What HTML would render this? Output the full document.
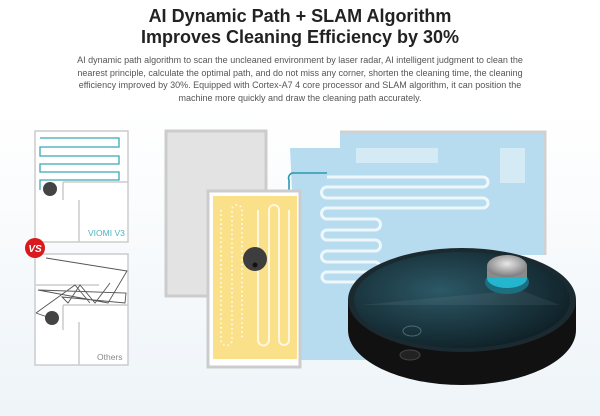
<!DOCTYPE html><html><head><style>
body{margin:0;width:600px;height:416px;overflow:hidden;background:#fff;font-family:"Liberation Sans",sans-serif}
h1{margin:0;position:absolute;top:6px;width:600px;text-align:center;font-size:18px;line-height:21px;color:#222;font-weight:bold}
p{margin:0;position:absolute;top:54px;left:66px;width:468px;text-align:center;font-size:9px;line-height:12.5px;color:#555}
svg{position:absolute;left:0;top:0}
</style></head><body>
<svg width="600" height="416">
<defs><linearGradient id="bg" x1="0" y1="0" x2="0" y2="1"><stop offset="0" stop-color="#fff"/><stop offset="1" stop-color="#eef4f8"/></linearGradient>
<radialGradient id="top" cx="0.4" cy="0.4" r="0.7"><stop offset="0" stop-color="#2c5866"/><stop offset="1" stop-color="#0d1c22"/></radialGradient>
<radialGradient id="tur" cx="0.5" cy="0.4" r="0.6"><stop offset="0" stop-color="#e8e8e8"/><stop offset="1" stop-color="#7a7a7a"/></radialGradient></defs>
<rect x="0" y="110" width="600" height="306" fill="url(#bg)"/>
<g fill="none" stroke="#ccc" stroke-width="1.5">
<rect x="35" y="131" width="93" height="111" fill="#fff"/>
<rect x="35" y="254" width="93" height="111" fill="#fff"/>
<path d="M63 182 H128 M63 182 V200 M79 200 V242 M63 305 H128 M63 305 V330 M79 322 V365 M36 285 H99"/>
</g>
<g fill="none" stroke="#3aa8b8" stroke-width="1.3">
<path d="M40 138 H119 V147 H40 V156 H119 V164 H40 V172 H119 V180 H40 V190"/>
</g>
<circle cx="50" cy="189" r="7" fill="#444"/>
<text x="88" y="236" font-size="8.5" fill="#4fb3c0">VIOMI V3</text>
<circle cx="35" cy="248" r="10" fill="#d9191c"/>
<text x="35" y="252" font-size="10" font-weight="bold" fill="#fff" text-anchor="middle" font-style="italic">VS</text>
<g fill="none" stroke="#555" stroke-width="0.9">
<path d="M46 258 L127 271 L108 303 L38 290 L126 293 L125 303 L62 297 L68 303 L80 285 L95 303 L110 283 M36 313 L75 285 L90 303 M36 313 L50 318"/>
</g>
<circle cx="52" cy="318" r="7" fill="#444"/>
<text x="97" y="360" font-size="8.5" fill="#888">Others</text>
<!-- gray floor -->
<rect x="166" y="131" width="100" height="165" fill="#e3e3e3" stroke="#ccc" stroke-width="3"/>
<rect x="170" y="135" width="92" height="10" fill="#e3e3e3"/>
<!-- blue -->
<path d="M290 148 H340 V133 H545 V255 H460 V360 H300 Z" fill="#b8dcef"/>
<path d="M340 132 H545 V255" fill="none" stroke="#d0d0d0" stroke-width="3"/>
<rect x="356" y="148" width="82" height="15" fill="#d4ebf6"/>
<rect x="500" y="148" width="25" height="35" fill="#d4ebf6"/>
<g fill="none" stroke="#eef7fb" stroke-width="3">
<path d="M327 177 H483 A5 5 0 0 1 483 187 H327 A5 5 0 0 0 327 198 H483 A5 5 0 0 1 483 208 H327 A5 5 0 0 0 327 219 H375 A5 5 0 0 1 375 230 H327 A5 5 0 0 0 327 240 H375 A5 5 0 0 1 375 251 H327 A5 5 0 0 0 327 262 H375 A5 5 0 0 1 375 272 H327 A5 5 0 0 0 327 282 H375"/>
</g>
<path d="M289 214 V180 A5 5 0 0 1 294 173 H327" fill="none" stroke="#2a9ab0" stroke-width="1.6"/>
<!-- yellow -->
<rect x="208" y="191" width="92" height="176" fill="#fff" stroke="#ccc" stroke-width="3"/>
<rect x="213" y="196" width="84" height="163" fill="#fbe08a"/>
<g fill="none" stroke="#fff7e0" stroke-width="2">
<path d="M221 210 V340 A5 5 0 0 0 232 340 V210 A5 5 0 0 1 242 210 V340" stroke-dasharray="1.5 3"/>
<path d="M258 210 V340 A5 5 0 0 0 269 340 V210 A5 5 0 0 1 279 210 V340 A5 5 0 0 0 289 340 V210"/>
</g>
<circle cx="255" cy="259" r="12" fill="#3d3d3d"/><circle cx="255" cy="265" r="2.5" fill="#111"/>
<!-- robot -->
<ellipse cx="462" cy="330" rx="114" ry="55" fill="#111"/>
<rect x="348" y="300" width="228" height="30" fill="#111"/>
<ellipse cx="462" cy="300" rx="114" ry="52" fill="#1a2a30"/>
<ellipse cx="462" cy="300" rx="108" ry="48" fill="url(#top)"/>
<path d="M360 305 L520 290 L560 305 Z" fill="#fff" opacity="0.06"/>
<ellipse cx="410" cy="355" rx="10" ry="5" fill="#222" stroke="#444"/>
<ellipse cx="412" cy="331" rx="9" ry="5" fill="none" stroke="#4a6a74"/>
<ellipse cx="507" cy="282" rx="22" ry="12" fill="#1b6f80"/>
<ellipse cx="507" cy="278" rx="20" ry="10" fill="#25b6cf"/>
<rect x="487" y="266" width="40" height="12" fill="#8a8a8a"/>
<ellipse cx="507" cy="266" rx="20" ry="11" fill="url(#tur)"/>
</svg>
<h1>AI Dynamic Path + SLAM Algorithm<br>Improves Cleaning Efficiency by 30%</h1>
<p>AI dynamic path algorithm to scan the uncleaned environment by laser radar, AI intelligent judgment to clean the nearest principle, calculate the optimal path, and do not miss any corner, shorten the cleaning time, the cleaning efficiency improved by 30%. Equipped with Cortex-A7 4 core processor and SLAM algorithm, it can position the machine more quickly and draw the cleaning path accurately.</p>
</body></html>
